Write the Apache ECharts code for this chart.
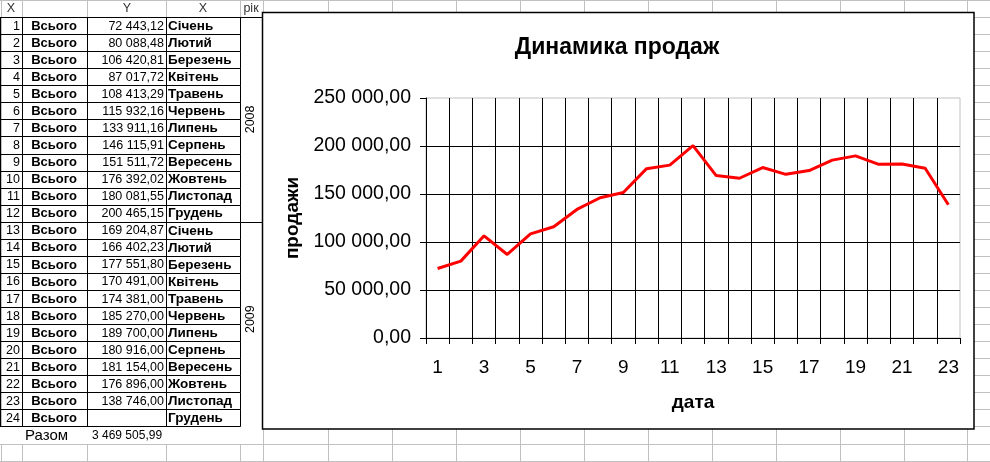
<!DOCTYPE html>
<html>
<head>
<meta charset="utf-8">
<script src="https://cdn.jsdelivr.net/npm/echarts@6/dist/echarts.min.js"></script>
<style>
html,body{margin:0;padding:0;background:#fff;}
#chart{width:990px;height:462px;}
</style>
</head>
<body>
<div id="chart"></div>
<script>
// ---- data ----
const rowNumbers = [1,2,3,4,5,6,7,8,9,10,11,12,13,14,15,16,17,18,19,20,21,22,23,24];
const totalWord = 'Всього';
const sales = [72443.12, 80088.48, 106420.81, 87017.72, 108413.29, 115932.16, 133911.16, 146115.91,
  151511.72, 176392.02, 180081.55, 200465.15, 169204.87, 166402.23, 177551.80, 170491.00,
  174381.00, 185270.00, 189700.00, 180916.00, 181154.00, 176896.00, 138746.00, null];
const months = ['Січень','Лютий','Березень','Квітень','Травень','Червень','Липень','Серпень',
  'Вересень','Жовтень','Листопад','Грудень','Січень','Лютий','Березень','Квітень','Травень',
  'Червень','Липень','Серпень','Вересень','Жовтень','Листопад','Грудень'];
const years = ['2008','2009'];
const headers = ['X','','Y','X','рік'];
const sumLabel = 'Разом';
const sumValue = '3 469 505,99';
const xCategories = ['1','2','3','4','5','6','7','8','9','10','11','12','13','14','15','16','17','18','19','20','21','22','23'];
const chartSeries = sales.slice(0, 23);
const chartTitle = 'Динамика продаж';
const xName = 'дата';
const yName = 'продажи';
const yTicks = [0, 50000, 100000, 150000, 200000, 250000];

// ---- helpers ----
function fmt(v) {
  const s = Number(v).toFixed(2);
  const parts = s.split('.');
  const intPart = parts[0].replace(/\B(?=(\d{3})+(?!\d))/g, ' ');
  return intPart + ',' + parts[1];
}
const FONT = 'Arial, "Liberation Sans", sans-serif';
const ROW = 17.06;
const gray = '#c0c0c0';
const g = [];
// spreadsheet background grid
const colLines = [0.5, 22, 87, 166, 240, 263, 328, 392, 456, 520, 584, 648, 712, 776, 840, 904, 967];
colLines.forEach(x => g.push({type:'line', z:-100, silent:true,
  shape:{x1:Math.round(x)+0.5, y1:0, x2:Math.round(x)+0.5, y2:462}, style:{stroke:gray, lineWidth:1}}));
for (let k = 0; k <= 27; k++) {
  const y = Math.round(ROW*k) + 0.5;
  g.push({type:'line', z:-100, silent:true, shape:{x1:0, y1:y, x2:990, y2:y}, style:{stroke:gray, lineWidth:1}});
}
// white cover for the 'Разом' row and year column
g.push({type:'rect', z:-90, silent:true, shape:{x:0, y:Math.round(ROW*25)+1, width:262, height:17}, style:{fill:'#fff'}});
g.push({type:'rect', z:-90, silent:true, shape:{x:241, y:Math.round(ROW)+1, width:21, height:Math.round(ROW*24)}, style:{fill:'#fff'}});
// table cell borders (black)
const cellCols = [0.5, 22.5, 87.5, 166.5, 240.5];
for (let r = 1; r <= 24; r++) {
  const y0 = Math.round(ROW*r) + 0.5, y1 = Math.round(ROW*(r+1)) + 0.5;
  g.push({type:'line', z:-80, silent:true, shape:{x1:0, y1:y1, x2:240.5, y2:y1}, style:{stroke:'#000', lineWidth:1}});
  if (r === 1) g.push({type:'line', z:-80, silent:true, shape:{x1:0, y1:y0, x2:262.5, y2:y0}, style:{stroke:'#000', lineWidth:1}});
  cellCols.forEach(x => g.push({type:'line', z:-80, silent:true, shape:{x1:x, y1:y0, x2:x, y2:y1}, style:{stroke:'#000', lineWidth:1}}));
}
// year merged cells
const yearSplit = Math.round(ROW*13) + 0.5;
g.push({type:'line', z:-80, silent:true, shape:{x1:240.5, y1:yearSplit, x2:262.5, y2:yearSplit}, style:{stroke:'#000', lineWidth:1}});
g.push({type:'line', z:-80, silent:true, shape:{x1:262.5, y1:Math.round(ROW)+0.5, x2:262.5, y2:Math.round(ROW*25)+0.5}, style:{stroke:'#000', lineWidth:1}});
// header texts
const headerX = [11, 55, 127, 203, 251];
headers.forEach((h, i) => {
  if (!h) return;
  g.push({type:'text', z:-70, silent:true, x:headerX[i], y:ROW/2+0.5,
    style:{text:h, font:'12.5px ' + FONT, fill:'#333', align:'center', verticalAlign:'middle'}});
});
// rows
rowNumbers.forEach((n, i) => {
  const yc = ROW*(i+1) + ROW/2 + 0.5;
  g.push({type:'text', z:-70, silent:true, x:20, y:yc, style:{text:String(n), font:'12.5px ' + FONT, fill:'#000', align:'right', verticalAlign:'middle'}});
  g.push({type:'text', z:-70, silent:true, x:54, y:yc, style:{text:totalWord, font:'bold 13px ' + FONT, fill:'#000', align:'center', verticalAlign:'middle'}});
  if (sales[i] != null) g.push({type:'text', z:-70, silent:true, x:164, y:yc, style:{text:fmt(sales[i]), font:'12.5px ' + FONT, fill:'#000', align:'right', verticalAlign:'middle'}});
  g.push({type:'text', z:-70, silent:true, x:168, y:yc, style:{text:months[i], font:'bold 13.5px ' + FONT, fill:'#000', align:'left', verticalAlign:'middle'}});
});
// years (rotated)
years.forEach((yr, i) => {
  const yc = i === 0 ? (ROW*1 + ROW*13)/2 : (ROW*13 + ROW*25)/2 - 5;
  g.push({type:'text', z:-70, silent:true, x:251, y:yc, rotation:Math.PI/2,
    style:{text:yr, font:'12.5px ' + FONT, fill:'#000', align:'center', verticalAlign:'middle'}});
});
// sum row
const sumY = ROW*25 + ROW/2 + 1;
g.push({type:'text', z:-70, silent:true, x:25, y:sumY, style:{text:sumLabel, font:'15px ' + FONT, fill:'#000', align:'left', verticalAlign:'middle'}});
g.push({type:'text', z:-70, silent:true, x:92, y:sumY, style:{text:sumValue, font:'12px ' + FONT, fill:'#000', align:'left', verticalAlign:'middle'}});
// chart frame
g.push({type:'rect', z:-50, silent:true, shape:{x:262.5, y:12.5, width:711.5, height:416.5},
  style:{fill:'#fff', stroke:'#000', lineWidth:1.5}});

const chart = echarts.init(document.getElementById('chart'), null, {renderer:'canvas'});
chart.setOption({
  animation:false,
  backgroundColor:'#fff',
  graphic:{elements:g},
  title:{text:chartTitle, left:612, top:31, textAlign:'center',
    textStyle:{fontFamily:FONT, fontSize:23, fontWeight:'bold', color:'#000'}},
  grid:{left:426, right:30, top:98, bottom:124, show:true, borderColor:gray, borderWidth:1, backgroundColor:'transparent'},
  xAxis:{
    type:'category', data:xCategories, boundaryGap:true,
    name:xName, nameLocation:'middle', nameGap:55,
    nameTextStyle:{fontFamily:FONT, fontSize:19, fontWeight:'bold', color:'#000'},
    axisLine:{lineStyle:{color:'#000', width:1}},
    axisTick:{show:true, interval:0, length:6, lineStyle:{color:'#000'}},
    axisLabel:{interval:1, margin:20, fontFamily:FONT, fontSize:19, color:'#000'},
    splitLine:{show:true, interval:0, showMaxLine:false, lineStyle:{color:'#000', width:1}}
  },
  yAxis:{
    type:'value', min:yTicks[0], max:yTicks[yTicks.length-1], interval:yTicks[1]-yTicks[0],
    name:yName, nameLocation:'middle', nameGap:122,
    nameTextStyle:{fontFamily:FONT, fontSize:19, fontWeight:'bold', color:'#000'},
    axisLine:{show:true, lineStyle:{color:'#000', width:1}},
    axisTick:{show:true, length:6, lineStyle:{color:'#000'}},
    axisLabel:{margin:15, fontFamily:FONT, fontSize:19.5, color:'#000', formatter:v => fmt(v)},
    splitLine:{show:true, showMaxLine:false, lineStyle:{color:'#000', width:1}}
  },
  series:[{
    type:'line', data:chartSeries, symbol:'none', smooth:false,
    lineStyle:{color:'#ff0000', width:3}, itemStyle:{color:'#ff0000'}
  }]
});
</script>
</body>
</html>
